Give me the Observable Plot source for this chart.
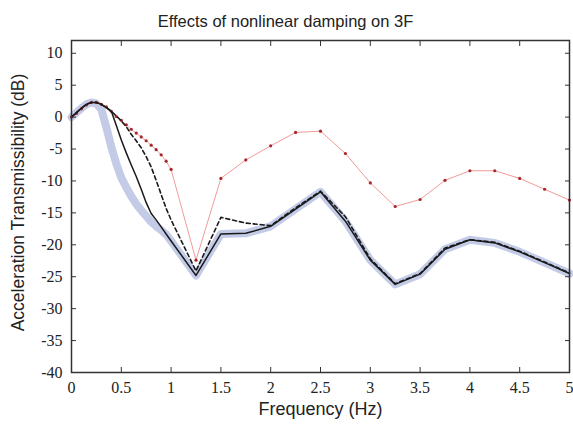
<!DOCTYPE html>
<html>
<head>
<meta charset="utf-8">
<script src="https://cdn.jsdelivr.net/npm/d3@7"></script>
<script src="https://cdn.jsdelivr.net/npm/@observablehq/plot@0.6"></script>
<style>
  html, body { margin: 0; padding: 0; background: #fff; }
  #chart svg { display: block; }
</style>
</head>
<body>
<div id="chart"></div>
<script>
// Frequencies (Hz)
const freq = [0,0.05,0.1,0.15,0.2,0.25,0.3,0.35,0.4,0.45,0.5,0.55,0.6,0.65,0.7,0.75,0.8,0.85,0.9,0.95,1.0,
  1.25,1.5,1.75,2.0,2.25,2.5,2.75,3.0,3.25,3.5,3.75,4.0,4.25,4.5,4.75,5.0];

// Thick light-blue reference curve (dB)
const bandSeries = [0,0.7,1.4,2.0,2.3,2.1,1.2,-1.6,-4.7,-7.3,-9.5,-11.0,-12.4,-13.6,-14.6,-15.5,-16.4,-17.1,-17.7,-18.4,-19.4,
  -24.8,-18.3,-18.2,-17.1,-14.4,-11.7,-16.3,-22.4,-26.2,-24.6,-20.7,-19.2,-19.7,-21.1,-22.8,-24.5];

// Solid black curve (dB)
const solidSeries = [0,0.7,1.4,2.0,2.3,2.3,2.0,1.5,0.9,-1.3,-3.6,-5.6,-7.5,-9.3,-11.3,-13.4,-15.1,-16.1,-17.2,-18.3,-19.4,
  -24.8,-18.3,-18.2,-17.1,-14.4,-11.7,-16.3,-22.4,-26.2,-24.6,-20.7,-19.2,-19.7,-21.1,-22.8,-24.5];

// Dashed black curve (dB)
const dashedSeries = [0,0.7,1.4,2.0,2.3,2.3,2.0,1.5,0.9,0.2,-0.6,-1.5,-2.7,-3.7,-4.8,-6.2,-7.8,-9.9,-12.1,-14.3,-16.1,
  -24.1,-15.7,-16.6,-17.0,-14.2,-11.6,-15.6,-22.2,-26.1,-24.5,-20.5,-19.2,-19.6,-21.0,-22.7,-24.4];

// Red curve with markers (dB)
const redSeries = [0,0.6,1.3,1.9,2.3,2.3,2.0,1.6,0.9,0.1,-0.5,-1.2,-1.9,-2.5,-3.1,-3.7,-4.4,-5.1,-5.9,-6.9,-8.2,
  -22.4,-9.6,-6.7,-4.5,-2.4,-2.2,-5.7,-10.3,-14.0,-12.9,-9.9,-8.4,-8.4,-9.6,-11.3,-13.0];

const xTicks = [0,0.5,1,1.5,2,2.5,3,3.5,4,4.5,5];
const yTicks = [10,5,0,-5,-10,-15,-20,-25,-30,-35,-40];
const titleText = "Effects of nonlinear damping on 3F";
const xLabel = "Frequency (Hz)";
const yLabel = "Acceleration Transmissibility (dB)";

const mk = (ys) => freq.map((f, i) => ({f, v: ys[i]}));
const band = mk(bandSeries), solid = mk(solidSeries), dashed = mk(dashedSeries), red = mk(redSeries);

const fmt = d => String(d);
const serif = "'Liberation Serif', 'Times New Roman', serif";
const sans = "'Liberation Sans', Arial, sans-serif";

const plot = Plot.plot({
  width: 573,
  height: 428,
  marginLeft: 71,
  marginRight: 4,
  marginTop: 40,
  marginBottom: 56,
  style: {fontFamily: serif, fontSize: "16px", color: "#222", background: "#fff"},
  x: {domain: [0, 5]},
  y: {domain: [-40, 12]},
  marks: [
    Plot.line(band, {x: "f", y: "v", stroke: "#c3cbe7", strokeWidth: 8, strokeLinejoin: "round", strokeLinecap: "round"}),
    Plot.line(red, {x: "f", y: "v", stroke: "#f19a9a", strokeWidth: 1}),
    Plot.dot(red, {x: "f", y: "v", r: 1.6, fill: "#a8262a", stroke: "none"}),
    Plot.line(dashed, {x: "f", y: "v", stroke: "#1a1a1a", strokeWidth: 1.6, strokeDasharray: "4,3"}),
    Plot.line(solid, {x: "f", y: "v", stroke: "#1a1a1a", strokeWidth: 1.5}),
    Plot.frame({stroke: "#333", strokeWidth: 1.5}),
    Plot.axisX(xTicks, {anchor: "bottom", tickSize: -5, tickPadding: 14, tickFormat: fmt, label: null, fontSize: 16, stroke: "#333"}),
    Plot.axisX(xTicks, {anchor: "top", tickSize: -5, tickFormat: () => "", label: null, stroke: "#333"}),
    Plot.axisY(yTicks, {anchor: "left", tickSize: -5, tickPadding: 14, tickFormat: fmt, label: null, fontSize: 16, stroke: "#333"}),
    Plot.axisY(yTicks, {anchor: "right", tickSize: -5, tickFormat: () => "", label: null, stroke: "#333"}),
    Plot.text([titleText], {frameAnchor: "top", dx: -35, dy: -25, fontFamily: sans, fontSize: 16.5, fill: "#222"}),
    Plot.text([xLabel], {frameAnchor: "bottom", dy: 42, fontFamily: sans, fontSize: 18, fill: "#222"}),
    Plot.text([yLabel], {frameAnchor: "left", textAnchor: "middle", dx: -53, dy: -4, rotate: -90, fontFamily: sans, fontSize: 17.5, fill: "#222"})
  ]
});
document.getElementById("chart").appendChild(plot);
</script>
</body>
</html>
